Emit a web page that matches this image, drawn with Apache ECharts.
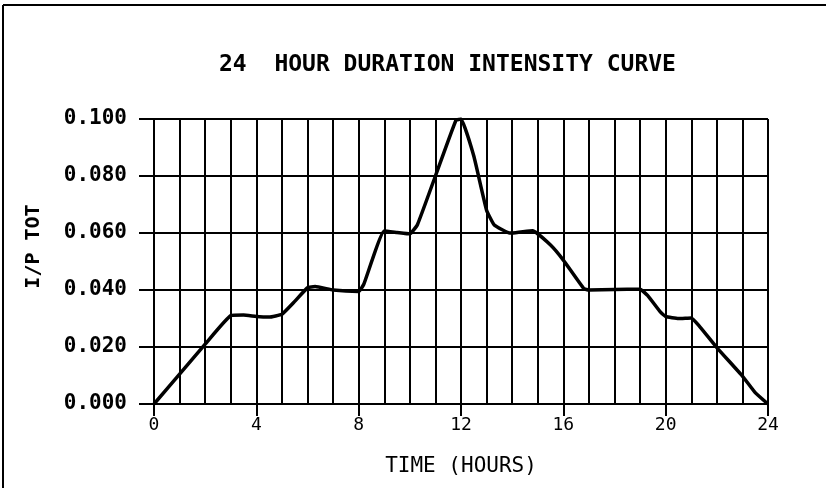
<!DOCTYPE html>
<html>
<head>
<meta charset="utf-8">
<script src="https://cdn.jsdelivr.net/npm/echarts@6/dist/echarts.min.js"></script>
<style>
  html, body { margin: 0; padding: 0; background: #fff; }
  #chart { width: 826px; height: 488px; }
</style>
</head>
<body>
<div id="chart"></div>
<script>
// Storm intensity distribution over a 24 hour event (fraction of total per hour)
const timeHours = [0, 1, 2, 3, 3.5, 4, 4.5, 5, 5.5, 6, 6.3, 7, 8, 8.2, 9, 9.5, 10, 10.3, 11, 11.8, 12,
                   12.5, 13, 13.3, 13.9, 14, 14.8, 15.5, 16, 16.8, 17, 18, 19, 19.3, 19.8, 20, 20.5, 21, 21.3, 22, 23, 23.5, 24];
const intensity = [0.000, 0.0105, 0.021, 0.031, 0.0312, 0.0307, 0.0305, 0.0315, 0.036, 0.0408, 0.0412, 0.0400, 0.0395, 0.042, 0.0607, 0.0602, 0.0597, 0.063, 0.080, 0.0995, 0.100,
                   0.087, 0.068, 0.0628, 0.0600, 0.0600, 0.0608, 0.0558, 0.0505, 0.0405, 0.0400, 0.0402, 0.0403, 0.038, 0.0322, 0.0307, 0.0300, 0.0302, 0.0275, 0.0198, 0.0098, 0.004, 0.000];
const yTicks = [0, 0.02, 0.04, 0.06, 0.08, 0.10];
const xTicks = [0, 4, 8, 12, 16, 20, 24];

const titleText = '24  HOUR DURATION INTENSITY CURVE';
const xName = 'TIME (HOURS)';
const yName = 'I/P TOT';

const points = timeHours.map((t, i) => [t, intensity[i]]);
const mono = 'DejaVu Sans Mono';

const chart = echarts.init(document.getElementById('chart'), null, { renderer: 'canvas' });
chart.setOption({
  backgroundColor: '#ffffff',
  animation: false,
  title: {
    text: titleText,
    left: 214,
    top: 49,
    textStyle: { fontFamily: mono, fontWeight: 'bold', fontSize: 23, color: '#000' }
  },
  grid: { left: 154, right: 58, top: 119, bottom: 84, containLabel: false },
  xAxis: {
    type: 'value',
    min: xTicks[0],
    max: xTicks[xTicks.length - 1],
    interval: 4,
    name: xName,
    nameLocation: 'middle',
    nameGap: 52,
    nameTextStyle: { fontFamily: mono, fontSize: 21, color: '#000' },
    axisLine: { show: true, lineStyle: { color: '#000', width: 2 } },
    axisTick: { show: true, inside: false, length: 12, lineStyle: { color: '#000', width: 2 } },
    minorTick: { show: true, splitNumber: 4, length: 0 },
    minorSplitLine: { show: true, lineStyle: { color: '#000', width: 2 } },
    splitLine: { show: true, lineStyle: { color: '#000', width: 2 } },
    axisLabel: { margin: 12, fontFamily: mono, fontSize: 18, color: '#000',
                 formatter: v => String(v) }
  },
  yAxis: {
    type: 'value',
    min: yTicks[0],
    max: yTicks[yTicks.length - 1],
    interval: 0.02,
    name: yName,
    nameLocation: 'middle',
    nameGap: 110,
    nameTextStyle: { fontFamily: mono, fontWeight: 'bold', fontSize: 20, color: '#000', padding: [0, 0, 0, 30] },
    axisLine: { show: true, lineStyle: { color: '#000', width: 2 } },
    axisTick: { show: true, inside: false, length: 15, lineStyle: { color: '#000', width: 2 } },
    splitLine: { show: true, lineStyle: { color: '#000', width: 2 } },
    axisLabel: { margin: 27, fontFamily: mono, fontWeight: 'bold', fontSize: 21, color: '#000',
                 formatter: v => v.toFixed(3) }
  },
  series: [{
    type: 'line',
    data: points,
    smooth: 0.12,
    showSymbol: false,
    lineStyle: { color: '#000', width: 3.5 },
    z: 5
  }],
  graphic: [
    { type: 'line', shape: { x1: 3, y1: 5, x2: 826, y2: 5 }, style: { stroke: '#000', lineWidth: 2 } },
    { type: 'line', shape: { x1: 3, y1: 5, x2: 3, y2: 488 }, style: { stroke: '#000', lineWidth: 2 } }
  ]
});
</script>
</body>
</html>
